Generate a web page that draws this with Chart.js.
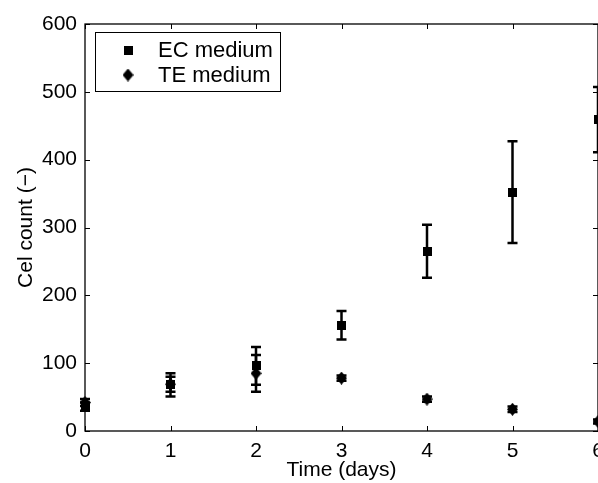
<!DOCTYPE html>
<html>
<head>
<meta charset="utf-8">
<script src="https://cdn.jsdelivr.net/npm/chart.js"></script>
<style>
  * { margin: 0; padding: 0; box-sizing: border-box; }
  html, body { width: 598px; height: 483px; overflow: hidden; background: #fff; }
  .wrap { width: 610px; height: 483px; }
</style>
</head>
<body>
<div class="wrap"><canvas id="chart" width="610" height="483"></canvas></div>
<script>
  // data
  const days = [0, 1, 2, 3, 4, 5, 6];
  const ecMean = [36, 68, 96, 156, 265, 352, 459];
  const ecErr = [6, 17, 28, 21, 39, 75, 48];
  const teMean = [42, 69, 85, 78, 47, 32, 14];
  const teErr = [5, 11, 27, 4, 4, 4, 3];
  const seriesNames = ['EC medium', 'TE medium'];

  const FONT = "'Liberation Sans', Arial, Helvetica, sans-serif";

  // Matlab-like markers
  function makeSquare() {
    const c = document.createElement('canvas');
    c.width = 9; c.height = 9;
    const g = c.getContext('2d');
    g.fillStyle = '#000';
    g.fillRect(0, 0, 9, 9);
    return c;
  }
  function makeDiamond() {
    const c = document.createElement('canvas');
    c.width = 11; c.height = 13;
    const g = c.getContext('2d');
    g.fillStyle = '#000';
    g.beginPath();
    g.moveTo(5.5, 0);
    g.lineTo(11, 6.5);
    g.lineTo(5.5, 13);
    g.lineTo(0, 6.5);
    g.closePath();
    g.fill();
    return c;
  }
  const squareImg = makeSquare();
  const diamondImg = makeDiamond();

  const toPoints = (xs, ys) => xs.map((x, i) => ({ x: x, y: ys[i] }));

  // error bars drawn through the chart scales
  const errorBars = {
    id: 'errorBars',
    beforeDatasetsDraw(chart) {
      const { ctx, scales: { x, y } } = chart;
      const sets = [[ecMean, ecErr], [teMean, teErr]];
      ctx.save();
      ctx.strokeStyle = '#000';
      ctx.lineWidth = 2.5;
      sets.forEach(([m, e]) => {
        days.forEach((d, i) => {
          const px = x.getPixelForValue(d);
          const top = y.getPixelForValue(m[i] + e[i]);
          const bot = y.getPixelForValue(m[i] - e[i]);
          ctx.beginPath();
          ctx.moveTo(px, top); ctx.lineTo(px, bot);
          ctx.moveTo(px - 5, top); ctx.lineTo(px + 5, top);
          ctx.moveTo(px - 5, bot); ctx.lineTo(px + 5, bot);
          ctx.stroke();
        });
      });
      ctx.restore();
    }
  };

  // box axes with inward ticks, plus the boxed legend
  const frame = {
    id: 'frame',
    afterDraw(chart) {
      const { ctx, chartArea: a, scales: { x, y } } = chart;
      ctx.save();
      ctx.strokeStyle = '#000';
      ctx.lineWidth = 1.3;
      ctx.strokeRect(a.left, a.top, a.right - a.left, a.bottom - a.top);
      ctx.beginPath();
      x.ticks.forEach(t => {
        const px = Math.round(x.getPixelForValue(t.value)) + 0.5;
        ctx.moveTo(px, a.bottom); ctx.lineTo(px, a.bottom - 5);
        ctx.moveTo(px, a.top); ctx.lineTo(px, a.top + 5);
      });
      y.ticks.forEach(t => {
        const py = Math.round(y.getPixelForValue(t.value)) + 0.5;
        ctx.moveTo(a.left, py); ctx.lineTo(a.left + 5, py);
        ctx.moveTo(a.right, py); ctx.lineTo(a.right - 5, py);
      });
      ctx.lineWidth = 1;
      ctx.stroke();

      // legend
      ctx.fillStyle = '#fff';
      ctx.fillRect(95.5, 32.5, 185, 59);
      ctx.strokeStyle = '#000';
      ctx.lineWidth = 1;
      ctx.strokeRect(95.5, 32.5, 185, 59);
      const imgs = [squareImg, diamondImg];
      const rows = [50, 75];
      ctx.font = '22px ' + FONT;
      ctx.fillStyle = '#000';
      ctx.textBaseline = 'middle';
      seriesNames.forEach((name, i) => {
        const im = imgs[i];
        ctx.drawImage(im, 128 - im.width / 2, rows[i] - im.height / 2);
        ctx.fillText(name, 158, rows[i] + 1);
      });
      ctx.restore();
    }
  };

  const ctx = document.getElementById('chart').getContext('2d');
  new Chart(ctx, {
    type: 'scatter',
    data: {
      datasets: [
        { label: seriesNames[0], data: toPoints(days, ecMean), pointStyle: squareImg, clip: false },
        { label: seriesNames[1], data: toPoints(days, teMean), pointStyle: diamondImg, clip: false }
      ]
    },
    options: {
      responsive: false,
      animation: false,
      devicePixelRatio: 1,
      layout: { padding: { top: 24, right: 12, left: 0, bottom: 0 } },
      plugins: { legend: { display: false }, tooltip: { enabled: false } },
      scales: {
        x: {
          type: 'linear', min: 0, max: 6,
          grid: { display: false }, border: { display: false },
          ticks: { stepSize: 1, color: '#000', padding: 0, font: { family: FONT, size: 21 } },
          title: { display: true, text: 'Time (days)', color: '#000', padding: { top: 0, bottom: 0 }, font: { family: FONT, size: 21 } },
          afterFit(s) { s.height = 52; }
        },
        y: {
          min: 0, max: 600,
          grid: { display: false }, border: { display: false },
          ticks: { stepSize: 100, color: '#000', padding: 0, font: { family: FONT, size: 21 } },
          title: { display: true, text: 'Cel count (\u2212)', color: '#000', padding: { top: 14, bottom: 0 }, font: { family: FONT, size: 21 } },
          afterFit(s) { s.width = 85; }
        }
      }
    },
    plugins: [errorBars, frame]
  });
</script>
</body>
</html>
